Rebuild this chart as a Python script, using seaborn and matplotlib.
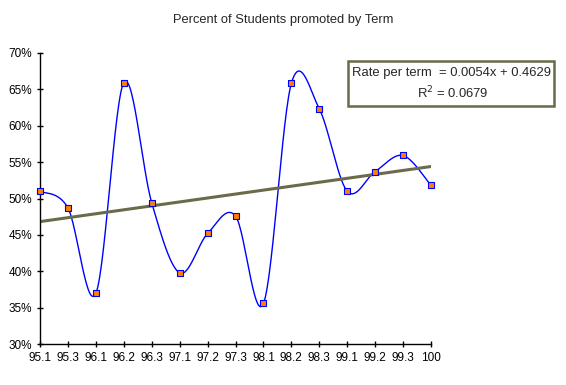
import numpy as np
import pandas as pd
import matplotlib.pyplot as plt
from matplotlib.patches import Rectangle
import seaborn as sns

terms = ["95.1", "95.3", "96.1", "96.2", "96.3", "97.1", "97.2", "97.3",
         "98.1", "98.2", "98.3", "99.1", "99.2", "99.3", "100"]
promoted = [0.510, 0.487, 0.370, 0.659, 0.494, 0.398, 0.452, 0.476,
            0.356, 0.658, 0.623, 0.510, 0.537, 0.559, 0.518]
slope = 0.0054
intercept = 0.4629
r_squared = 0.0679
y_ticks = [0.30, 0.35, 0.40, 0.45, 0.50, 0.55, 0.60, 0.65, 0.70]

sns.set_theme(style="white")
plt.rcParams["font.family"] = ["Liberation Sans", "DejaVu Sans"]

df = pd.DataFrame({"pos": np.arange(len(terms)), "term": terms, "rate": promoted})


# smoothed line like the spreadsheet draws it (Catmull-Rom bezier)
def smooth(x, y, steps=30):
    x = np.asarray(x, float)
    y = np.asarray(y, float)
    px = np.concatenate([[x[0]], x, [x[-1]]])
    py = np.concatenate([[y[0]], y, [y[-1]]])
    xs, ys = [], []
    t = np.linspace(0, 1, steps)
    for i in range(1, len(px) - 2):
        b0 = np.array([px[i], py[i]])
        b3 = np.array([px[i + 1], py[i + 1]])
        b1 = b0 + (np.array([px[i + 1], py[i + 1]]) - np.array([px[i - 1], py[i - 1]])) / 6
        b2 = b3 - (np.array([px[i + 2], py[i + 2]]) - b0) / 6
        pts = ((1 - t) ** 3)[:, None] * b0 + (3 * (1 - t) ** 2 * t)[:, None] * b1 \
            + (3 * (1 - t) * t ** 2)[:, None] * b2 + (t ** 3)[:, None] * b3
        xs.extend(pts[:, 0])
        ys.extend(pts[:, 1])
    return np.array(xs), np.array(ys)


fig = plt.figure(figsize=(5.66, 3.85), dpi=100)
ax = fig.add_axes([0.0707, 0.1057, 0.6908, 0.7574])

sx, sy = smooth(df["pos"], df["rate"])
sns.lineplot(x=sx, y=sy, sort=False, estimator=None, color="#0000ff",
             linewidth=1.0, ax=ax)

trend = pd.DataFrame({"pos": df["pos"], "fit": slope * (df["pos"] + 1) + intercept})
sns.lineplot(data=trend, x="pos", y="fit", color="#6b6b4b", linewidth=2.2, ax=ax)

sns.scatterplot(data=df, x="pos", y="rate", marker="s", s=20, color="#ff8000",
                edgecolor="#0000ff", linewidth=0.8, zorder=5, clip_on=False, ax=ax)

ax.set_xlim(0, len(terms) - 1)
ax.set_ylim(0.30, 0.70)
ax.set_xticks(df["pos"])
ax.set_xticklabels(terms)
ax.set_yticks(y_ticks)
ax.set_yticklabels([f"{int(round(v * 100))}%" for v in y_ticks])
ax.set_xlabel("")
ax.set_ylabel("")
ax.tick_params(axis="both", direction="inout", length=5, width=1, color="black",
               labelsize=8.5, labelcolor="black", pad=3, left=True, bottom=True)
for side in ["top", "right"]:
    ax.spines[side].set_visible(False)
for side in ["left", "bottom"]:
    ax.spines[side].set_color("black")
    ax.spines[side].set_linewidth(1)

fig.text(0.5, 1 - 20 / 385, "Percent of Students promoted by Term",
         ha="center", va="center", fontsize=9.3)

fig.patches.append(Rectangle((348 / 566, 1 - 106 / 385), 206 / 566, 45 / 385,
                             transform=fig.transFigure, facecolor="white",
                             edgecolor="#6b6b4b", linewidth=1.8))
fig.text(452 / 566, 1 - 73 / 385,
         f"Rate per term  = {slope:.4f}x + {intercept:.4f}",
         ha="center", va="center", fontsize=9.4)
fig.text(453 / 566, 1 - 93 / 385, f"R$^2$ = {r_squared:.4f}",
         ha="center", va="center", fontsize=9.4)

fig.savefig("out.png", dpi=100)
